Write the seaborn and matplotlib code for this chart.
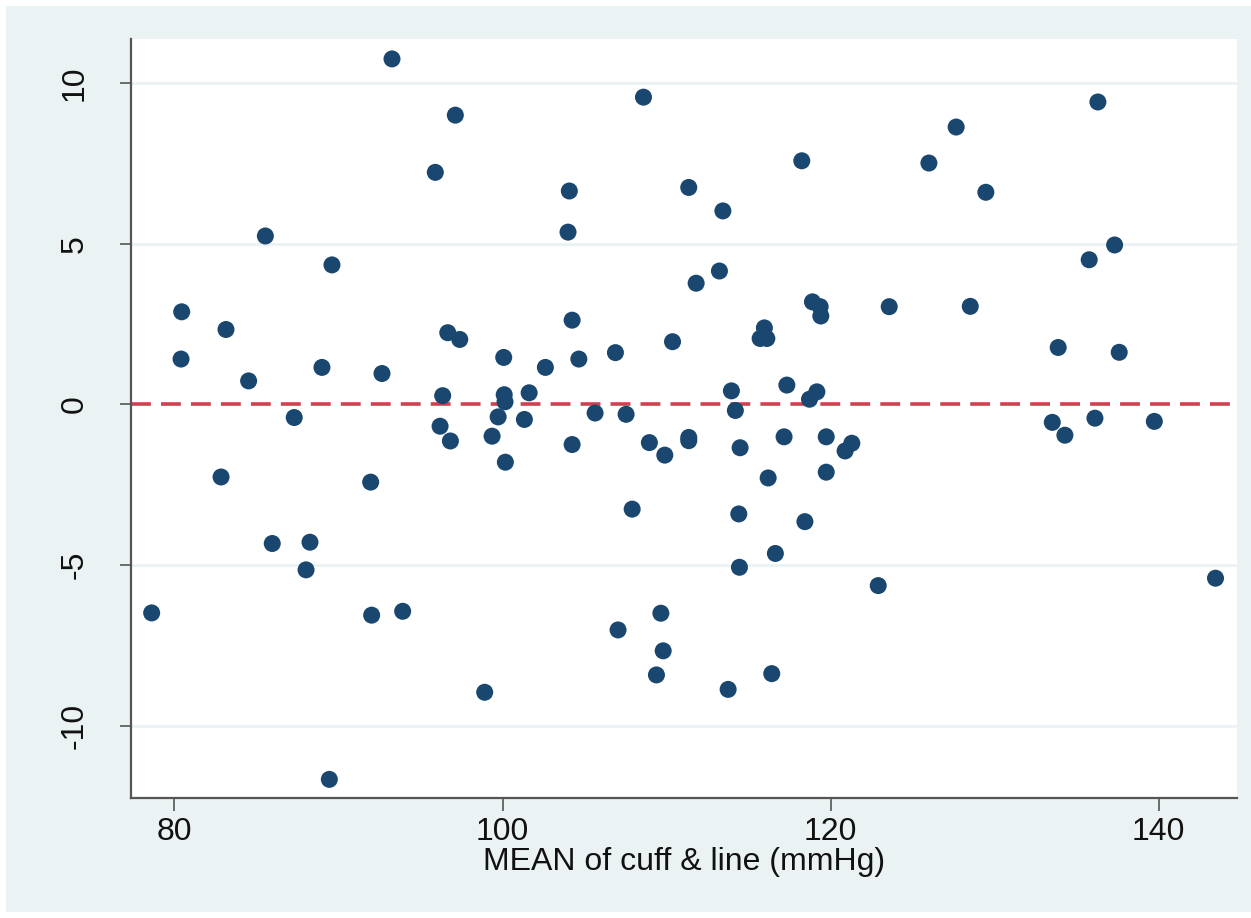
import numpy as np
import pandas as pd
import seaborn as sns
import matplotlib
matplotlib.use("Agg")
import matplotlib.pyplot as plt
from matplotlib.patches import Rectangle

# Data
mean_cuff_line = [
    78.61, 80.44, 80.40, 82.84, 83.14, 84.52, 85.54, 85.96, 87.30, 88.02,
    88.26, 88.99, 89.44, 89.60, 91.96, 92.02, 92.65, 93.26, 93.91, 95.90,
    96.19, 96.35, 96.66, 96.82, 97.12, 97.39, 98.91, 99.36, 99.73, 100.07,
    100.10, 100.15, 100.17, 101.33, 101.62, 102.61, 103.99, 104.07, 104.24, 104.24,
    104.65, 105.64, 106.88, 107.04, 107.53, 107.90, 108.59, 108.95, 109.38, 109.65,
    109.79, 109.89, 110.36, 111.35, 111.35, 111.35, 111.80, 113.22, 113.43, 113.75,
    113.95, 114.19, 114.40, 114.44, 114.48, 115.70, 115.96, 116.11, 116.19, 116.41,
    116.63, 117.16, 117.33, 118.24, 118.43, 118.71, 118.89, 119.16, 119.36, 119.40,
    119.73, 119.73, 120.88, 121.29, 122.90, 123.57, 125.99, 127.65, 128.51, 129.46,
    133.51, 133.87, 134.28, 135.76, 136.11, 136.29, 137.31, 137.59, 139.73, 143.46,
]
difference = [
    -6.49, 2.88, 1.41, -2.26, 2.33, 0.73, 5.24, -4.33, -0.41, -5.15,
    -4.29, 1.15, -11.67, 4.34, -2.42, -6.56, 0.96, 10.75, -6.44, 7.22,
    -0.68, 0.27, 2.23, -1.14, 9.00, 2.02, -8.96, -0.99, -0.39, 1.46,
    0.30, 0.08, -1.80, -0.47, 0.36, 1.15, 5.36, 6.64, 2.62, -1.25,
    1.41, -0.27, 1.61, -7.02, -0.31, -3.26, 9.56, -1.19, -8.42, -6.50,
    -7.67, -1.58, 1.95, 6.75, -1.03, -1.13, 3.77, 4.15, 6.02, -8.87,
    0.42, -0.19, -3.41, -5.07, -1.35, 2.05, 2.38, 2.05, -2.29, -8.38,
    -4.64, -1.01, 0.60, 7.58, -3.65, 0.16, 3.19, 0.39, 3.04, 2.75,
    -1.01, -2.11, -1.45, -1.21, -5.64, 3.04, 7.51, 8.63, 3.05, 6.60,
    -0.56, 1.77, -0.96, 4.50, -0.43, 9.41, 4.96, 1.62, -0.53, -5.41,
]
x_ticks = [80, 100, 120, 140]
y_ticks = [-10, -5, 0, 5, 10]
x_label = "MEAN of cuff & line (mmHg)"

df = pd.DataFrame({"mean": mean_cuff_line, "diff": difference})

sns.set_theme(style="white")
plt.rcParams["font.family"] = ["Liberation Sans", "DejaVu Sans"]

W, H = 1251, 918
fig = plt.figure(figsize=(W / 100, H / 100), dpi=100, facecolor="white")
# outer light background
bg = Rectangle((6 / W, 6 / H), 1 - 6 / W, (H - 12) / H,
               transform=fig.transFigure, facecolor="#EAF2F3",
               edgecolor="none", zorder=-10)
fig.patches.append(bg)

ax = fig.add_axes([131 / W, 1 - 798 / H, (1237 - 131) / W, (798 - 39) / H])
ax.set_zorder(1)
ax.set_facecolor("white")

for yt in y_ticks:
    if yt != 0:
        ax.axhline(yt, color="#EAF2F3", lw=2.0, zorder=0)

ax.axhline(0, color="#D0404F", lw=2.6, dashes=(5.5, 2.8), zorder=1)

sns.scatterplot(data=df, x="mean", y="diff", ax=ax, s=150, color="#1A476F",
                edgecolor="none", linewidth=0, zorder=3)

ax.set_xlim(77.35, 144.77)
ax.set_ylim(-12.25, 11.37)
ax.set_xticks(x_ticks)
ax.set_yticks(y_ticks)
ax.set_xticklabels([str(v) for v in x_ticks], fontsize=23, color="#111111")
ax.set_yticklabels([str(v) for v in y_ticks], fontsize=23, color="#111111",
                   rotation=90, va="center")
ax.set_xlabel(x_label, fontsize=23, color="#111111", labelpad=0)
ax.set_ylabel("")

for side in ["top", "right"]:
    ax.spines[side].set_visible(False)
for side in ["left", "bottom"]:
    ax.spines[side].set_color("#555555")
    ax.spines[side].set_linewidth(1.6)

ax.tick_params(axis="x", direction="out", length=9, width=1.2, color="#555555",
               pad=5, bottom=True)
ax.tick_params(axis="y", direction="out", length=8, width=1.2, color="#555555",
               pad=22, left=True)
ax.grid(False)

fig.savefig("out.png", dpi=100, facecolor=fig.get_facecolor())
